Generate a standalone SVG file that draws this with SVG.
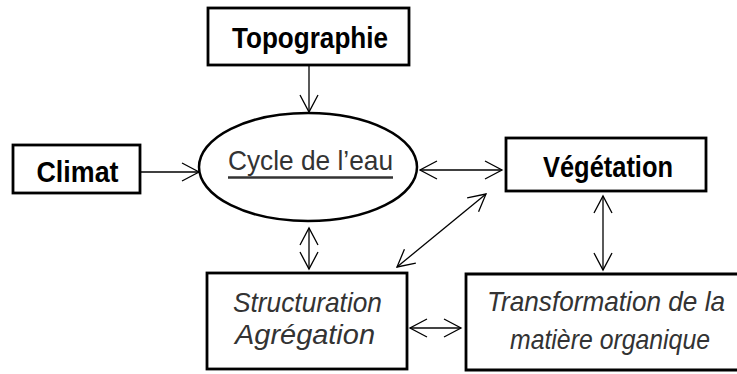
<svg xmlns="http://www.w3.org/2000/svg" width="737" height="374" viewBox="0 0 737 374">
<style>
.box{fill:#fff;stroke:#000;stroke-width:2.8}
.b{font-family:"Liberation Sans",Arial,sans-serif;font-size:29px;font-weight:bold;fill:#000;text-anchor:middle}
.i{font-family:"Liberation Sans",Arial,sans-serif;font-size:28.5px;font-style:italic;fill:#333;text-anchor:middle}
.r{font-family:"Liberation Sans",Arial,sans-serif;font-size:28.5px;fill:#333;text-anchor:middle}
.c{fill:none;stroke:#000;stroke-width:1.3}
</style>
<defs>
<marker id="h" markerUnits="userSpaceOnUse" orient="auto-start-reverse" refX="0" refY="0" markerWidth="20" markerHeight="20" overflow="visible">
<path d="M-17,-9 L0,0 L-17,9" fill="none" stroke="#000" stroke-width="1.3"/>
</marker>
</defs>
<rect width="737" height="374" fill="#fff"/>
<g id="connectors">
<line class="c" x1="309" y1="65" x2="309" y2="112" marker-end="url(#h)"/>
<line class="c" x1="140" y1="172" x2="199" y2="172" marker-end="url(#h)"/>
<line class="c" x1="420" y1="170" x2="502" y2="170" marker-start="url(#h)" marker-end="url(#h)"/>
<line class="c" x1="603" y1="196" x2="603" y2="270" marker-start="url(#h)" marker-end="url(#h)"/>
<line class="c" x1="309" y1="228" x2="309" y2="269" marker-start="url(#h)" marker-end="url(#h)"/>
<line class="c" x1="397" y1="267" x2="486" y2="194" marker-start="url(#h)" marker-end="url(#h)"/>
<line class="c" x1="410" y1="328" x2="461" y2="328" marker-start="url(#h)" marker-end="url(#h)" style="stroke:#444;stroke-width:1.8"/>
</g>
<g id="topographie">
<rect class="box" x="208" y="8" width="201" height="57"/>
<text class="b" x="310" y="48" textLength="156" lengthAdjust="spacingAndGlyphs">Topographie</text>
</g>
<g id="climat">
<rect class="box" x="13" y="145" width="127" height="48"/>
<text class="b" x="77.5" y="182" textLength="82" lengthAdjust="spacingAndGlyphs">Climat</text>
</g>
<g id="cycle">
<ellipse cx="308" cy="167" rx="109" ry="54" fill="#fff" stroke="#000" stroke-width="2.5"/>
<text class="r" x="310.5" y="170" textLength="165" lengthAdjust="spacingAndGlyphs">Cycle de l’eau</text>
<line x1="228" y1="177.5" x2="393" y2="177.5" stroke="#333" stroke-width="2.5"/>
</g>
<g id="vegetation">
<rect class="box" x="506" y="138" width="200" height="53"/>
<text class="b" x="608" y="177" textLength="130" lengthAdjust="spacingAndGlyphs">Végétation</text>
</g>
<g id="structuration">
<rect class="box" x="207" y="273" width="200" height="96"/>
<text class="i" x="307.5" y="312" textLength="149" lengthAdjust="spacingAndGlyphs">Structuration</text>
<text class="i" x="305" y="344" textLength="140" lengthAdjust="spacingAndGlyphs">Agrégation</text>
</g>
<g id="transformation">
<path class="box" d="M737,274 H466 V370 H737"/>
<text class="i" x="606" y="311" textLength="238" lengthAdjust="spacingAndGlyphs">Transformation de la</text>
<text class="i" x="610" y="349" textLength="200" lengthAdjust="spacingAndGlyphs">matière organique</text>
</g>
</svg>
